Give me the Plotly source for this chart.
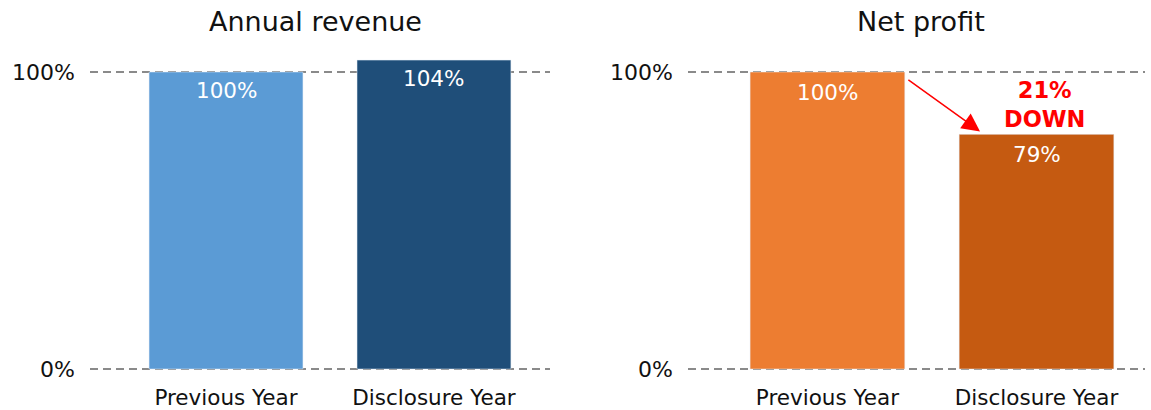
import plotly.graph_objects as go

categories = ["Previous Year", "Disclosure Year"]
revenue_values = [100, 104]
revenue_labels = ["100%", "104%"]
profit_values = [100, 79]
profit_labels = ["100%", "79%"]
revenue_colors = ["#5B9BD5", "#1F4E79"]
profit_colors = ["#ED7D31", "#C55A11"]
titles = ["Annual revenue", "Net profit"]
ytick_vals = [0, 100]
ytick_text = ["0%", "100%"]
change_text = "21%<br>DOWN"

W, H = 1151, 410
FONT = "DejaVu Sans"
TOP, BOT = 40, 376  # plot area pixel rows
PX = 2.97            # pixels per percentage point
ZERO = 369           # pixel row of 0%

fig = go.Figure()
fig.add_trace(go.Bar(x=categories, y=revenue_values, marker_color=revenue_colors,
                     width=0.74, xaxis="x", yaxis="y", showlegend=False, hoverinfo="skip"))
fig.add_trace(go.Bar(x=categories, y=profit_values, marker_color=profit_colors,
                     width=0.74, xaxis="x2", yaxis="y2", showlegend=False, hoverinfo="skip"))

annotations = []
for i, c in enumerate(categories):
    annotations.append(dict(x=c, y=revenue_values[i], xref="x", yref="y", text=revenue_labels[i],
                            showarrow=False, yanchor="top", yshift=-4,
                            font=dict(family=FONT, size=21.5, color="white")))
    annotations.append(dict(x=c, y=profit_values[i], xref="x2", yref="y2", text=profit_labels[i],
                            showarrow=False, yanchor="top", yshift=-6,
                            font=dict(family=FONT, size=21.5, color="white")))

# arrow from previous-year bar top to disclosure-year bar
annotations.append(dict(x=0.73, y=80, xref="x2", yref="y2", ax=0.38, ay=97.7,
                        axref="x2", ayref="y2", text="", showarrow=True,
                        arrowhead=2, arrowsize=2.4, arrowwidth=1.5, arrowcolor="#FF0000"))
annotations.append(dict(x=1.04, y=79.0, xref="x2", yref="y2", text="<b>" + change_text + "</b>",
                        showarrow=False, yanchor="bottom", xanchor="center",
                        font=dict(family=FONT, size=22.5, color="#FF0000")))

# titles (paper y measured in plot-area heights)
ty = 1 + (TOP - 22) / (BOT - TOP)
annotations.append(dict(x=(90 + 550) / 2 / W - 0.004, y=ty, xref="paper", yref="paper",
                        text=titles[0], showarrow=False, yanchor="middle", xanchor="center",
                        font=dict(family=FONT, size=27, color="#111111")))
annotations.append(dict(x=(688 + 1145) / 2 / W + 0.004, y=ty, xref="paper", yref="paper",
                        text=titles[1], showarrow=False, yanchor="middle", xanchor="center",
                        font=dict(family=FONT, size=27, color="#111111")))

y_lo = -(BOT - ZERO) / PX
y_hi = (ZERO - TOP) / PX

common_y = dict(tickvals=ytick_vals, ticktext=ytick_text, showgrid=True,
                gridcolor="#8a8a8a", griddash="8px,5px", gridwidth=1.5, zeroline=False,
                showline=False, ticks="", ticklabelstandoff=14, automargin=False,
                range=[y_lo, y_hi], domain=[0, 1],
                tickfont=dict(family=FONT, size=22, color="#111111"))
common_x = dict(showgrid=False, zeroline=False, showline=False, ticks="", automargin=False,
                tickfont=dict(family=FONT, size=21.5, color="#111111"), ticklabelstandoff=6)

fig.update_layout(
    width=W, height=H,
    margin=dict(l=0, r=0, t=TOP, b=H - BOT, pad=0),
    paper_bgcolor="white", plot_bgcolor="white",
    xaxis=dict(domain=[90 / W, 550 / W], range=[-0.654, 1.558], anchor="y", **common_x),
    yaxis=dict(anchor="x", **common_y),
    xaxis2=dict(domain=[688 / W, 1145 / W], range=[-0.667, 1.519], anchor="y2", **common_x),
    yaxis2=dict(anchor="x2", **common_y),
    annotations=annotations,
)

fig.write_html("out.html")
